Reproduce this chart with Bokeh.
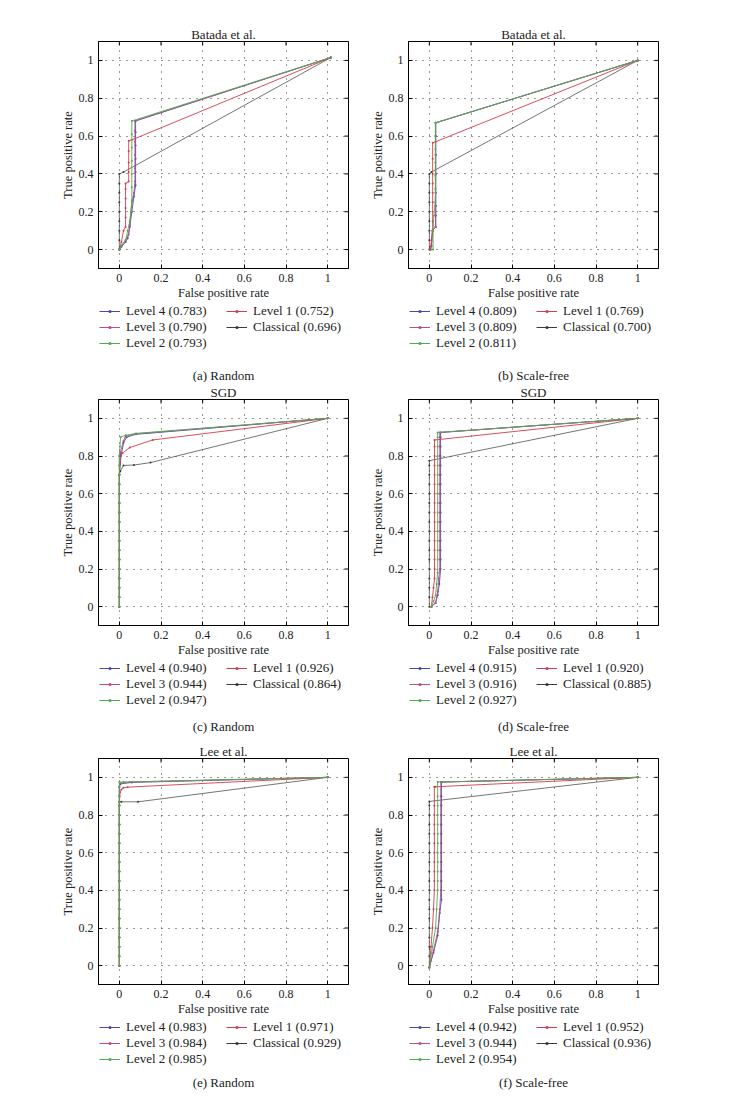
import math
from bokeh.plotting import figure
from bokeh.models import Legend, LegendItem, FixedTicker, NumeralTickFormatter, Label
from bokeh.layouts import column, row
from bokeh.embed import file_html
from bokeh.resources import INLINE

# ---------------- data ----------------
series_names = ["Level 4", "Level 3", "Level 2", "Level 1", "Classical"]
tick_values = [0, 0.2, 0.4, 0.6, 0.8, 1]

panel_titles = ["Batada et al.", "Batada et al.", "SGD", "SGD", "Lee et al.", "Lee et al."]
panel_captions = ["(a) Random", "(b) Scale-free", "(c) Random", "(d) Scale-free", "(e) Random", "(f) Scale-free"]

auc_a = [0.783, 0.790, 0.793, 0.752, 0.696]
auc_b = [0.809, 0.809, 0.811, 0.769, 0.700]
auc_c = [0.940, 0.944, 0.947, 0.926, 0.864]
auc_d = [0.915, 0.916, 0.927, 0.920, 0.885]
auc_e = [0.983, 0.984, 0.985, 0.971, 0.929]
auc_f = [0.942, 0.944, 0.954, 0.952, 0.936]

# (a) Batada, Random
a_l4_x = [0, 0.01, 0.03, 0.04, 0.05, 0.06, 0.07, 0.078, 0.078, 0.078, 0.078, 0.078, 0.078, 1.015]
a_l4_y = [0, 0.015, 0.04, 0.06, 0.12, 0.2, 0.28, 0.34, 0.41, 0.48, 0.55, 0.62, 0.68, 1.015]
a_l3_x = [0, 0.01, 0.03, 0.045, 0.05, 0.06, 0.07, 0.075, 0.075, 0.075, 0.075, 0.075, 0.075, 1.015]
a_l3_y = [0, 0.02, 0.05, 0.08, 0.13, 0.25, 0.3, 0.36, 0.43, 0.5, 0.57, 0.63, 0.68, 1.015]
a_l2_x = [0, 0.01, 0.03, 0.04, 0.05, 0.055, 0.06, 0.06, 0.06, 0.06, 0.06, 0.06, 0.06, 1.015]
a_l2_y = [0, 0.02, 0.05, 0.1, 0.15, 0.2, 0.26, 0.33, 0.4, 0.47, 0.54, 0.61, 0.68, 1.015]
a_l1_x = [0, 0.01, 0.02, 0.03, 0.03, 0.03, 0.03, 0.03, 0.03, 0.045, 0.045, 0.045, 0.045, 0.045, 0.06, 1.015]
a_l1_y = [0, 0.04, 0.1, 0.12, 0.17, 0.22, 0.27, 0.32, 0.35, 0.36, 0.41, 0.46, 0.52, 0.575, 0.58, 1.015]
a_cl_x = [0, 0, 0, 0, 0, 0, 0, 0, 0, 0.02, 1.015]
a_cl_y = [0, 0.05, 0.1, 0.15, 0.2, 0.25, 0.3, 0.35, 0.4, 0.41, 1.015]

# (b) Batada, Scale-free
b_l4_x = [0.005, 0.01, 0.015, 0.031, 0.031, 0.031, 0.031, 0.031, 0.031, 0.031, 0.031, 1.0]
b_l4_y = [0, 0.02, 0.1, 0.12, 0.18, 0.23, 0.3, 0.4, 0.5, 0.6, 0.67, 1.0]
b_l3_x = [0.005, 0.01, 0.015, 0.03, 0.03, 0.03, 0.03, 0.03, 0.03, 0.03, 0.03, 1.0]
b_l3_y = [0, 0.02, 0.1, 0.12, 0.18, 0.23, 0.3, 0.4, 0.5, 0.6, 0.67, 1.0]
b_l2_x = [0.01, 0.018, 0.018, 0.022, 0.028, 0.029, 0.029, 0.029, 0.029, 0.029, 0.029, 1.0]
b_l2_y = [0, 0, 0.1, 0.18, 0.25, 0.32, 0.39, 0.46, 0.53, 0.6, 0.67, 1.0]
b_l1_x = [0.005, 0.01, 0.016, 0.016, 0.016, 0.016, 0.016, 0.016, 0.016, 0.016, 0.016, 0.03, 1.0]
b_l1_y = [0, 0.05, 0.1, 0.15, 0.2, 0.25, 0.3, 0.35, 0.4, 0.48, 0.565, 0.57, 1.0]
b_cl_x = [0, 0, 0, 0, 0, 0, 0, 0, 0, 0.01, 1.0]
b_cl_y = [0, 0.05, 0.1, 0.15, 0.2, 0.25, 0.3, 0.35, 0.4, 0.41, 1.0]

# (c) SGD, Random
c_l4_x = [0, 0, 0, 0, 0, 0, 0, 0, 0, 0, 0, 0, 0, 0, 0, 0.008, 0.02, 0.035, 0.08, 1.0]
c_l4_y = [0, 0.05, 0.1, 0.15, 0.2, 0.25, 0.3, 0.35, 0.4, 0.45, 0.5, 0.55, 0.6, 0.65, 0.7, 0.8, 0.87, 0.9, 0.915, 1.0]
c_l3_x = [0, 0, 0, 0, 0, 0, 0, 0, 0, 0, 0, 0, 0, 0, 0, 0, 0, 0.005, 0.02, 0.03, 0.08, 1.0]
c_l3_y = [0, 0.05, 0.1, 0.15, 0.2, 0.25, 0.3, 0.35, 0.4, 0.45, 0.5, 0.55, 0.6, 0.65, 0.7, 0.75, 0.8, 0.82, 0.88, 0.905, 0.918, 1.0]
c_l2_x = [0, 0, 0, 0, 0, 0, 0, 0, 0, 0, 0, 0, 0, 0, 0, 0, 0, 0.003, 0.006, 0.03, 0.08, 1.0]
c_l2_y = [0, 0.05, 0.1, 0.15, 0.2, 0.25, 0.3, 0.35, 0.4, 0.45, 0.5, 0.55, 0.6, 0.65, 0.7, 0.75, 0.8, 0.85, 0.9, 0.91, 0.92, 1.0]
c_l1_x = [0, 0, 0, 0, 0, 0, 0, 0, 0, 0, 0, 0, 0, 0, 0, 0.003, 0.006, 0.015, 0.05, 0.16, 1.0]
c_l1_y = [0, 0.05, 0.1, 0.15, 0.2, 0.25, 0.3, 0.35, 0.4, 0.45, 0.5, 0.55, 0.6, 0.65, 0.7, 0.76, 0.81, 0.815, 0.845, 0.885, 1.0]
c_cl_x = [0, 0, 0, 0, 0, 0, 0, 0, 0, 0, 0, 0, 0, 0, 0, 0.005, 0.02, 0.07, 0.15, 1.0]
c_cl_y = [0, 0.05, 0.1, 0.15, 0.2, 0.25, 0.3, 0.35, 0.4, 0.45, 0.5, 0.55, 0.6, 0.65, 0.7, 0.72, 0.75, 0.752, 0.765, 1.0]

# (d) SGD, Scale-free
d_l4_x = [0.01, 0.03, 0.04, 0.048, 0.054, 0.054, 0.054, 0.054, 0.054, 0.054, 0.054, 0.054, 0.054, 0.054, 0.054, 0.054, 0.054, 0.054, 0.054, 0.054, 1.0]
d_l4_y = [0, 0.02, 0.06, 0.12, 0.2, 0.25, 0.3, 0.35, 0.4, 0.45, 0.5, 0.55, 0.6, 0.65, 0.7, 0.75, 0.8, 0.85, 0.9, 0.925, 1.0]
d_l3_x = [0.01, 0.03, 0.04, 0.045, 0.05, 0.05, 0.05, 0.05, 0.05, 0.05, 0.05, 0.05, 0.05, 0.05, 0.05, 0.05, 0.05, 0.05, 0.05, 0.05, 1.0]
d_l3_y = [0, 0.02, 0.08, 0.15, 0.2, 0.25, 0.3, 0.35, 0.4, 0.45, 0.5, 0.55, 0.6, 0.65, 0.7, 0.75, 0.8, 0.85, 0.9, 0.925, 1.0]
d_l2_x = [0.01, 0.02, 0.03, 0.035, 0.04, 0.04, 0.04, 0.04, 0.04, 0.04, 0.04, 0.04, 0.04, 0.04, 0.04, 0.04, 0.04, 0.04, 0.04, 0.04, 1.0]
d_l2_y = [0, 0.03, 0.06, 0.12, 0.18, 0.25, 0.3, 0.35, 0.4, 0.45, 0.5, 0.55, 0.6, 0.65, 0.7, 0.75, 0.8, 0.85, 0.9, 0.925, 1.0]
d_l1_x = [0.01, 0.015, 0.02, 0.025, 0.025, 0.025, 0.025, 0.025, 0.025, 0.025, 0.025, 0.025, 0.025, 0.025, 0.025, 0.025, 0.025, 0.025, 0.025, 1.0]
d_l1_y = [0, 0.05, 0.1, 0.15, 0.2, 0.25, 0.3, 0.35, 0.4, 0.45, 0.5, 0.55, 0.6, 0.65, 0.7, 0.75, 0.8, 0.85, 0.885, 1.0]
d_cl_x = [0, 0, 0, 0, 0, 0, 0, 0, 0, 0, 0, 0, 0, 0, 0, 0, 0, 1.0]
d_cl_y = [0, 0.05, 0.1, 0.15, 0.2, 0.25, 0.3, 0.35, 0.4, 0.45, 0.5, 0.55, 0.6, 0.65, 0.7, 0.75, 0.775, 1.0]

# (e) Lee, Random
e_l4_x = [0, 0, 0, 0, 0, 0, 0, 0, 0, 0, 0, 0, 0, 0, 0, 0, 0, 0, 0, 0, 0.005, 0.06, 1.0]
e_l4_y = [0, 0.05, 0.1, 0.15, 0.2, 0.25, 0.3, 0.35, 0.4, 0.45, 0.5, 0.55, 0.6, 0.65, 0.7, 0.75, 0.8, 0.85, 0.9, 0.95, 0.965, 0.973, 1.0]
e_l3_x = [0, 0, 0, 0, 0, 0, 0, 0, 0, 0, 0, 0, 0, 0, 0, 0, 0, 0, 0, 0, 0.003, 0.05, 1.0]
e_l3_y = [0, 0.05, 0.1, 0.15, 0.2, 0.25, 0.3, 0.35, 0.4, 0.45, 0.5, 0.55, 0.6, 0.65, 0.7, 0.75, 0.8, 0.85, 0.9, 0.95, 0.97, 0.975, 1.0]
e_l2_x = [0, 0, 0, 0, 0, 0, 0, 0, 0, 0, 0, 0, 0, 0, 0, 0, 0, 0, 0, 0, 0, 0.02, 1.0]
e_l2_y = [0, 0.05, 0.1, 0.15, 0.2, 0.25, 0.3, 0.35, 0.4, 0.45, 0.5, 0.55, 0.6, 0.65, 0.7, 0.75, 0.8, 0.85, 0.9, 0.95, 0.975, 0.975, 1.0]
e_l1_x = [0, 0, 0, 0, 0, 0, 0, 0, 0, 0, 0, 0, 0, 0, 0, 0, 0, 0, 0.003, 0.01, 0.02, 0.04, 1.0]
e_l1_y = [0, 0.05, 0.1, 0.15, 0.2, 0.25, 0.3, 0.35, 0.4, 0.45, 0.5, 0.55, 0.6, 0.65, 0.7, 0.75, 0.8, 0.85, 0.92, 0.935, 0.945, 0.948, 1.0]
e_cl_x = [0, 0, 0, 0, 0, 0, 0, 0, 0, 0, 0, 0, 0, 0, 0, 0, 0, 0, 0, 0.01, 0.09, 1.0]
e_cl_y = [0, 0.05, 0.1, 0.15, 0.2, 0.25, 0.3, 0.35, 0.4, 0.45, 0.5, 0.55, 0.6, 0.65, 0.7, 0.75, 0.8, 0.85, 0.87, 0.87, 0.87, 1.0]

# (f) Lee, Scale-free
f_l4_x = [0, 0.02, 0.04, 0.05, 0.058, 0.058, 0.058, 0.058, 0.058, 0.058, 0.058, 0.058, 0.058, 0.058, 0.058, 0.058, 0.058, 1.0]
f_l4_y = [-0.01, 0.07, 0.16, 0.28, 0.35, 0.4, 0.45, 0.5, 0.55, 0.6, 0.65, 0.7, 0.75, 0.8, 0.85, 0.9, 0.975, 1.0]
f_l3_x = [0, 0.02, 0.04, 0.05, 0.055, 0.055, 0.055, 0.055, 0.055, 0.055, 0.055, 0.055, 0.055, 0.055, 0.055, 0.055, 0.06, 1.0]
f_l3_y = [-0.01, 0.08, 0.18, 0.3, 0.4, 0.45, 0.5, 0.55, 0.6, 0.65, 0.7, 0.75, 0.8, 0.85, 0.9, 0.975, 0.975, 1.0]
f_l2_x = [0, 0.015, 0.03, 0.035, 0.04, 0.04, 0.04, 0.04, 0.04, 0.04, 0.04, 0.04, 0.04, 0.04, 0.04, 0.04, 1.0]
f_l2_y = [-0.01, 0.1, 0.2, 0.3, 0.4, 0.45, 0.5, 0.55, 0.6, 0.65, 0.7, 0.75, 0.8, 0.85, 0.9, 0.975, 1.0]
f_l1_x = [0, 0.008, 0.015, 0.02, 0.024, 0.024, 0.024, 0.024, 0.024, 0.024, 0.024, 0.024, 0.024, 0.024, 0.024, 0.03, 1.0]
f_l1_y = [-0.01, 0.1, 0.2, 0.3, 0.4, 0.45, 0.5, 0.55, 0.6, 0.65, 0.7, 0.75, 0.8, 0.85, 0.95, 0.95, 1.0]
f_cl_x = [0, 0, 0, 0, 0, 0, 0, 0, 0, 0, 0, 0, 0, 0, 0, 0, 0, 0, 0, 1.0]
f_cl_y = [-0.01, 0.05, 0.1, 0.15, 0.2, 0.25, 0.3, 0.35, 0.4, 0.45, 0.5, 0.55, 0.6, 0.65, 0.7, 0.75, 0.8, 0.85, 0.872, 1.0]

# ---------------- style / layout ----------------
FONT = "Liberation Serif"
TEXT_COLOR = "#222222"
series_colors = {"Level 4": "#4a4aa6", "Level 3": "#b84c8e", "Level 2": "#4caf4c",
                 "Level 1": "#d23c4e", "Classical": "#3a3a3a"}
draw_order = ["Classical", "Level 4", "Level 3", "Level 1", "Level 2"]
X_START, X_END = -0.1, 1.1
Y_START, Y_END = -0.1, 1.1
FRAME_W, FRAME_H = 250, 227
BOTTOM_AXIS = 34
# per row: top border above frame, legend-strip height, caption distance from strip bottom
row_top = [41, 16, 16]
strip_h = [80, 82, 74]
caption_y = [7, 15, 10]
col_left = [98, 48]
col_right = [12, 20]
NAN = float("nan")


def make_plot(title, data, left_border, right_border, top_border):
    p = figure(width=left_border + FRAME_W + right_border, height=top_border + FRAME_H + BOTTOM_AXIS,
               x_range=(X_START, X_END), y_range=(Y_START, Y_END),
               output_backend="svg", toolbar_location=None,
               min_border_left=left_border, min_border_right=right_border,
               min_border_top=top_border, min_border_bottom=BOTTOM_AXIS,
               background_fill_color="white", border_fill_color="white")
    p.title.text = title
    p.title.align = "center"
    p.title.text_font = FONT
    p.title.text_font_size = "13px"
    p.title.text_font_style = "normal"
    p.title.text_color = TEXT_COLOR
    p.title.standoff = 0
    p.title.offset = 0

    ticker = FixedTicker(ticks=tick_values)
    for ax in (p.xaxis[0], p.yaxis[0]):
        ax.ticker = ticker
        ax.formatter = NumeralTickFormatter(format="0.[0]")
        ax.major_tick_in = 4
        ax.major_tick_out = 0
        ax.minor_tick_line_color = None
        ax.major_label_text_font = FONT
        ax.major_label_text_font_size = "12px"
        ax.major_label_text_color = TEXT_COLOR
        ax.axis_label_text_font = FONT
        ax.axis_label_text_font_size = "12.5px"
        ax.axis_label_text_font_style = "normal"
        ax.axis_label_text_color = TEXT_COLOR
        ax.axis_line_color = "black"
        ax.major_tick_line_color = "black"
        ax.major_label_standoff = 5
        ax.axis_label_standoff = 1
    p.xaxis.axis_label = "False positive rate"
    p.yaxis.axis_label = "True positive rate"

    # inward tick marks on the top and right edges (outer half of each dash is clipped by the frame)
    p.scatter(tick_values, [Y_END] * len(tick_values), marker="dash", size=8, angle=math.pi / 2,
              line_color="black", line_width=1)
    p.scatter([X_END] * len(tick_values), tick_values, marker="dash", size=8,
              line_color="black", line_width=1)

    p.outline_line_color = "black"
    p.outline_line_width = 1
    p.grid.grid_line_color = "#333333"
    p.grid.grid_line_dash = "1 6"
    p.grid.grid_line_width = 1

    for name in draw_order:
        xs, ys = data[name]
        col = series_colors[name]
        p.line(xs, ys, line_color=col, line_width=1, line_alpha=0.9 if name != "Classical" else 0.7)
        p.scatter(xs, ys, marker="circle", size=2, fill_color=col, line_color=None)
    return p


def make_strip(caption, aucs, left_border, right_border, height, cap_y):
    s = figure(width=left_border + FRAME_W + right_border, height=height,
               x_range=(0, 1), y_range=(0, height),
               output_backend="svg", toolbar_location=None,
               x_axis_location=None, y_axis_location=None,
               min_border_left=left_border, min_border_right=right_border,
               min_border_top=0, min_border_bottom=0,
               background_fill_color="white", border_fill_color="white",
               outline_line_color=None)
    s.grid.visible = False
    items = []
    for n, a in zip(series_names, aucs):
        col = series_colors[n]
        # legend-only renderers (NaN data, nothing is drawn in the strip itself)
        ln = s.line(x=[NAN], y=[NAN], line_color=col, line_width=1)
        sc = s.scatter(x=[NAN], y=[NAN], marker="circle", fill_color=col, line_color=None)
        items.append(LegendItem(label=f"{n} ({a:.3f})", renderers=[ln, sc]))
    legend = Legend(items=items, location="top_left", orientation="vertical", nrows=3,
                    border_line_color=None, background_fill_alpha=0,
                    label_text_font=FONT, label_text_font_size="13px", label_text_color=TEXT_COLOR,
                    label_text_line_height=1.0,
                    glyph_width=21, glyph_height=8, label_height=8, label_width=100,
                    label_standoff=6, spacing=0, padding=0, margin=1)
    s.add_layout(legend, "center")
    s.add_layout(Label(x=0.5, y=cap_y, text=caption, text_align="center", text_baseline="middle",
                       text_font=FONT, text_font_size="13px", text_color=TEXT_COLOR))
    return s


panel_data = [
    {"Level 4": (a_l4_x, a_l4_y), "Level 3": (a_l3_x, a_l3_y), "Level 2": (a_l2_x, a_l2_y),
     "Level 1": (a_l1_x, a_l1_y), "Classical": (a_cl_x, a_cl_y)},
    {"Level 4": (b_l4_x, b_l4_y), "Level 3": (b_l3_x, b_l3_y), "Level 2": (b_l2_x, b_l2_y),
     "Level 1": (b_l1_x, b_l1_y), "Classical": (b_cl_x, b_cl_y)},
    {"Level 4": (c_l4_x, c_l4_y), "Level 3": (c_l3_x, c_l3_y), "Level 2": (c_l2_x, c_l2_y),
     "Level 1": (c_l1_x, c_l1_y), "Classical": (c_cl_x, c_cl_y)},
    {"Level 4": (d_l4_x, d_l4_y), "Level 3": (d_l3_x, d_l3_y), "Level 2": (d_l2_x, d_l2_y),
     "Level 1": (d_l1_x, d_l1_y), "Classical": (d_cl_x, d_cl_y)},
    {"Level 4": (e_l4_x, e_l4_y), "Level 3": (e_l3_x, e_l3_y), "Level 2": (e_l2_x, e_l2_y),
     "Level 1": (e_l1_x, e_l1_y), "Classical": (e_cl_x, e_cl_y)},
    {"Level 4": (f_l4_x, f_l4_y), "Level 3": (f_l3_x, f_l3_y), "Level 2": (f_l2_x, f_l2_y),
     "Level 1": (f_l1_x, f_l1_y), "Classical": (f_cl_x, f_cl_y)},
]
panel_aucs = [auc_a, auc_b, auc_c, auc_d, auc_e, auc_f]

rows = []
for r in range(3):
    cols = []
    for c in range(2):
        i = 2 * r + c
        plot = make_plot(panel_titles[i], panel_data[i], col_left[c], col_right[c], row_top[r])
        strip = make_strip(panel_captions[i], panel_aucs[i], col_left[c], col_right[c], strip_h[r], caption_y[r])
        cols.append(column(plot, strip))
    rows.append(row(*cols))

layout = column(*rows)
open("out.html", "w").write(file_html(layout, INLINE))
